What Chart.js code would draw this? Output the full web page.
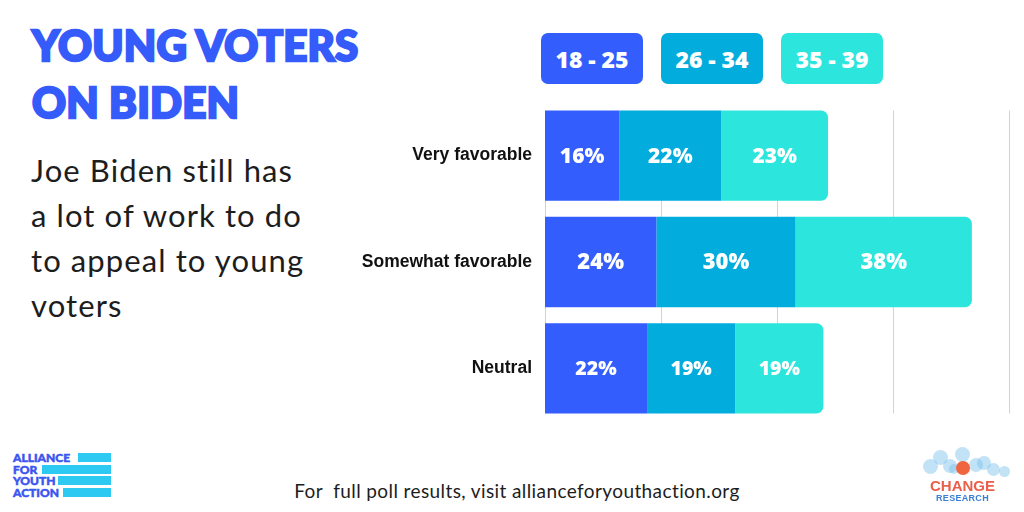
<!DOCTYPE html>
<html lang="en">
<head>
<meta charset="UTF-8">
<title>Young voters on Biden</title>
<script src="https://cdn.jsdelivr.net/npm/chart.js"></script>
<style>
    html, body { margin: 0; padding: 0; background: #fff; }
    body { width: 1024px; height: 512px; position: relative; overflow: hidden; font-family: Lato, sans-serif; }
    #title { position: absolute; left: 32px; top: 17px; margin: 0; font-family: Lato, sans-serif; font-weight: 900; font-size: 42px; line-height: 57px; color: #355cfa; -webkit-text-stroke: 2.4px #355cfa; letter-spacing: 0.2px; }
    #subtitle { position: absolute; left: 31px; top: 148px; margin: 0; font-size: 31px; line-height: 45px; color: #1d1d1d; font-weight: 400; letter-spacing: 1.1px; }
    #legend { position: absolute; left: 541px; top: 33px; display: flex; gap: 18px; }
    .lg { width: 102px; height: 51px; border-radius: 7px; color: #fff; font: 800 23px "Open Sans", sans-serif; display: flex; align-items: center; justify-content: center; }
    #chartBox { position: absolute; left: 340px; top: 78.5px; width: 684px; height: 366px; }
    #footer { position: absolute; left: 10px; width: 1014px; top: 479px; text-align: center; font-size: 19px; color: #1d1d1d; white-space: pre; letter-spacing: 0.4px; }
    #afya { position: absolute; left: 13px; top: 452px; font: 900 12px Lato, sans-serif; color: #3a55f0; line-height: 11.7px; -webkit-text-stroke: 0.5px #3a55f0; }
    #afya div { position: relative; height: 11.7px; }
    #afya span.bar { position: absolute; top: 1px; height: 9px; background: #2cc9f2; }
    #change { position: absolute; left: 915px; top: 444px; width: 95px; height: 62px; }
    .dot { position: absolute; border-radius: 50%; background: rgba(120, 190, 235, 0.45); }
    #change .t1 { position: absolute; left: 0; width: 95px; top: 33px; text-align: center; font: bold 15px "Liberation Sans", sans-serif; color: #ea5f4c; }
    #change .t2 { position: absolute; left: 0; width: 95px; top: 49px; text-align: center; font: bold 9px "Liberation Sans", sans-serif; color: #3b7fd4; letter-spacing: 0.3px; }
</style>
</head>
<body>
    <h1 id="title">YOUNG VOTERS<br>ON BIDEN</h1>
    <p id="subtitle">Joe Biden still has<br>a lot of work to do<br>to appeal to young<br>voters</p>
    <div id="legend"></div>
    <div id="chartBox"><canvas id="biden"></canvas></div>
    <div id="footer">For  full poll results, visit allianceforyouthaction.org</div>

    <div id="afya">
        <div>ALLIANCE<span class="bar" style="left:65px;width:33px"></span></div>
        <div>FOR<span class="bar" style="left:29px;width:69px"></span></div>
        <div>YOUTH<span class="bar" style="left:45px;width:53px"></span></div>
        <div>ACTION<span class="bar" style="left:50px;width:48px"></span></div>
    </div>

    <div id="change">
        <div class="dot" style="left:8px;top:15px;width:15px;height:15px"></div>
        <div class="dot" style="left:18px;top:6px;width:15px;height:15px"></div>
        <div class="dot" style="left:28px;top:15px;width:14px;height:14px"></div>
        <div class="dot" style="left:40px;top:3px;width:15px;height:15px"></div>
        <div class="dot" style="left:54px;top:14px;width:14px;height:14px"></div>
        <div class="dot" style="left:62px;top:12px;width:14px;height:14px"></div>
        <div class="dot" style="left:72px;top:19px;width:13px;height:13px"></div>
        <div class="dot" style="left:84px;top:22px;width:11px;height:11px"></div>
        <div class="dot" style="left:34px;top:20px;width:10px;height:10px"></div>
        <div class="dot" style="left:41px;top:17px;width:14px;height:14px;background:#f0643f"></div>
        <div class="t1">CHANGE</div>
        <div class="t2">RESEARCH</div>
    </div>

    <script>
        // données
        const categories = ['Very favorable', 'Somewhat favorable', 'Neutral'];
        const ageGroups = ['18 - 25', '26 - 34', '35 - 39'];
        const age18to25 = [16, 24, 22];
        const age26to34 = [22, 30, 19];
        const age35to39 = [23, 38, 19];
        const groupColors = ['#345dfd', '#02acdc', '#2ce5dc'];
        const xTicks = [0, 25, 50, 75, 100];

        // taille du texte des étiquettes, par ligne
        const labelSizes = [21, 22, 19.5];

        // grille verticale limitée à la hauteur des barres
        const gridLines = {
            id: 'gridLines',
            beforeDatasetsDraw(chart) {
                const ctx = chart.ctx;
                const x = chart.scales.x;
                const bars = chart.getDatasetMeta(0).data;
                const first = bars[0], last = bars[bars.length - 1];
                const top = first.y - first.height / 2;
                const bottom = last.y + last.height / 2;
                ctx.save();
                ctx.strokeStyle = '#d3d3d3';
                ctx.lineWidth = 1;
                xTicks.forEach(v => {
                    const px = Math.round(x.getPixelForValue(v)) + 0.5;
                    ctx.beginPath();
                    ctx.moveTo(px, top);
                    ctx.lineTo(px, bottom);
                    ctx.stroke();
                });
                ctx.restore();
            }
        };

        // étiquettes de valeur au centre de chaque segment
        const valueLabels = {
            id: 'valueLabels',
            afterDatasetsDraw(chart) {
                const ctx = chart.ctx;
                ctx.save();
                ctx.fillStyle = '#fff';
                ctx.textAlign = 'center';
                ctx.textBaseline = 'middle';
                chart.data.datasets.forEach((ds, i) => {
                    chart.getDatasetMeta(i).data.forEach((bar, j) => {
                        ctx.font = '800 ' + labelSizes[j] + 'px "Open Sans", sans-serif';
                        ctx.fillText(ds.data[j] + '%', (bar.x + bar.base) / 2, bar.y + 1);
                    });
                });
                ctx.restore();
            }
        };

        const series = [age18to25, age26to34, age35to39];

        const chart = new Chart(document.getElementById('biden'), {
            type: 'bar',
            data: {
                labels: categories,
                datasets: series.map((data, i) => ({
                    label: ageGroups[i],
                    data: data,
                    backgroundColor: groupColors[i],
                    borderWidth: 0,
                    borderRadius: i === series.length - 1
                        ? { topLeft: 0, bottomLeft: 0, topRight: 7, bottomRight: 7 } : 0,
                    barPercentage: 0.85,
                    categoryPercentage: 1
                }))
            },
            options: {
                indexAxis: 'y',
                responsive: true,
                maintainAspectRatio: false,
                animation: false,
                layout: { padding: { right: 15 } },
                plugins: { legend: { display: false }, tooltip: { enabled: false } },
                scales: {
                    x: { stacked: true, min: 0, max: 100, display: false },
                    y: {
                        stacked: true,
                        grid: { display: false, drawTicks: false },
                        border: { display: false },
                        ticks: { color: '#111', padding: 13, font: { family: 'Liberation Sans', weight: 'bold', size: 17.5, lineHeight: 1.2 } },
                        afterFit(scale) { scale.width = 205; }
                    }
                }
            },
            plugins: [gridLines, valueLabels]
        });

        // légende en pavés colorés, construite à partir des jeux de données
        const legend = document.getElementById('legend');
        chart.data.datasets.forEach(ds => {
            const item = document.createElement('div');
            item.className = 'lg';
            item.style.background = ds.backgroundColor;
            item.textContent = ds.label;
            legend.appendChild(item);
        });
    </script>
</body>
</html>
